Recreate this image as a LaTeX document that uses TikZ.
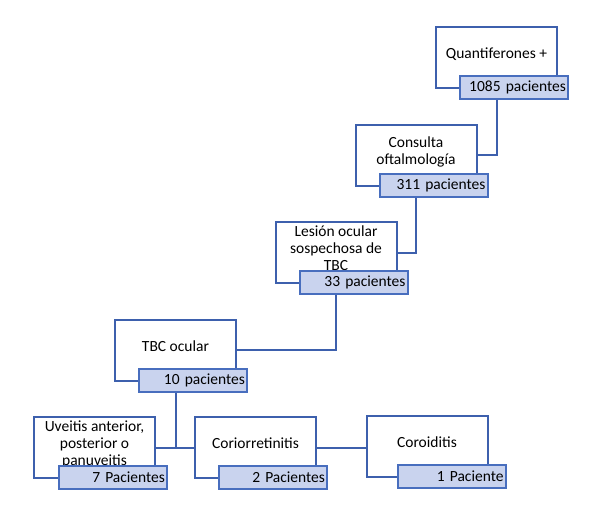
\documentclass[tikz,border=0pt]{standalone}
\usepackage{fontspec}
\setmainfont{Carlito}
\usepackage{tikz}
\definecolor{boxline}{RGB}{61,96,173}
\definecolor{lblline}{RGB}{72,110,190}
\definecolor{lblfill}{RGB}{201,211,238}
\tikzset{box/.style={draw=boxline, fill=white, line width=2pt, minimum width=121, minimum height=61,
  inner ysep=1pt, align=center, text depth=8pt, font=\fontsize{15.5}{17}\selectfont}}
\tikzset{lbl/.style={draw=lblline, fill=lblfill, line width=2pt, minimum height=23, inner xsep=2pt,
  inner ysep=1pt, text width=104pt, align=right, anchor=north east, font=\fontsize{15.5}{17}\selectfont}}
\tikzset{edge/.style={color=boxline,line width=2pt}}

\begin{document}
\begin{tikzpicture}[x=1pt,y=-1pt]
  \useasboundingbox (0,0) rectangle (600,514);

  \node[box] (qf) at (496.5,57) {Quantiferones +};
  \node[lbl] (qfn) at ([shift={(11,-14)}]qf.south east) {1085 pacientes};
  \node[box] (co) at (416,155) {Consulta\\oftalmología};
  \node[lbl] (con) at ([shift={(11,-14)}]co.south east) {311 pacientes};
  \node[box] (ls) at (336,252.5) {Lesión ocular\\sospechosa de\\TBC};
  \node[lbl] (lsn) at ([shift={(11,-14)}]ls.south east) {33 pacientes};
  \node[box] (tb) at (175.5,350) {TBC ocular};
  \node[lbl] (tbn) at ([shift={(11,-14)}]tb.south east) {10 pacientes};

  \node[box] (uv) at (94.5,447.5) {Uveitis anterior,\\posterior o\\panuveitis};
  \node[lbl] (uvn) at ([shift={(12,-14)}]uv.south east) {7 Pacientes};
  \node[box] (cr) at (255.5,447.5) {Coriorretinitis};
  \node[lbl] (crn) at ([shift={(11,-14)}]cr.south east) {2 Pacientes};
  \node[box] (cd) at (427,446) {Coroiditis};
  \node[lbl] (cdn) at ([shift={(18,-14)}]cd.south east) {1 Paciente};

  \draw[edge] (qfn.south -| qf) |- (co);
  \draw[edge] (con.south -| co) |- (ls);
  \draw[edge] (lsn.south -| ls) |- (tb);
  \draw[edge] (tbn.south -| tb) -- (tb |- uv);
  \draw[edge] (uv) -- (cr);
  \draw[edge] (cr.east) -- (cr.east -| cd.west);
\end{tikzpicture}
\end{document}
